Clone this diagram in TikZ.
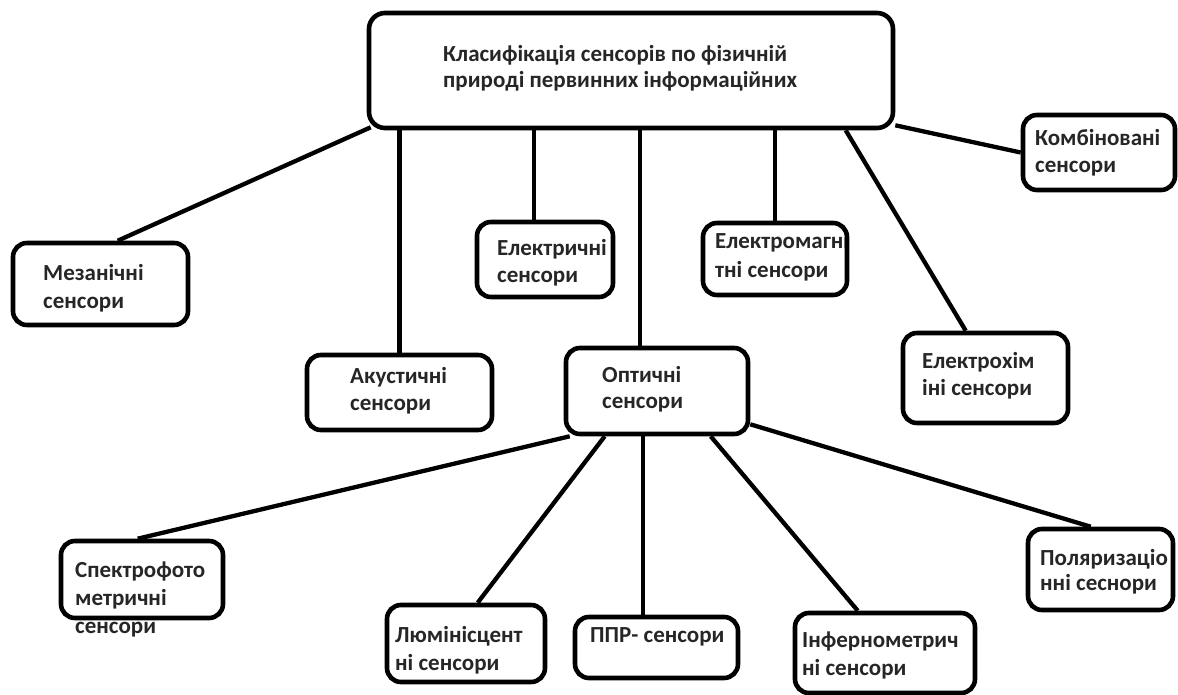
\documentclass[tikz,border=0pt]{standalone}
\usepackage{fontspec}
\newfontfamily\lbfont{Carlito}
\usetikzlibrary{calc}
\tikzset{
  box/.style={draw=black, line width=4.6pt, rounded corners=14pt, inner sep=0pt, rectangle},
  lbl/.style={anchor=base west, inner sep=0pt, text=black!85, font=\lbfont\bfseries\fontsize{23}{28}\selectfont},
  link/.style={draw=black, line width=4.3pt}
}
\begin{document}
\begin{tikzpicture}[x=1pt,y=-1pt]
\useasboundingbox (0,0) rectangle (1178,695);
% texts
\node[lbl] (topa) at (443,62) {Класифікація сенсорів по фізичній};
\node[lbl] (topb) at (443,88) {природі первинних інформаційних};
\node[lbl] (meza) at (43,280) {Мезанічні};
\node[lbl] (mezb) at (43,308) {сенсори};
\node[lbl] (akua) at (350,383) {Акустичні};
\node[lbl] (akub) at (350,410) {сенсори};
\node[lbl] (elea) at (497,255) {Електричні};
\node[lbl] (eleb) at (497,282) {сенсори};
\node[lbl] (opta) at (602,382) {Оптичні};
\node[lbl] (optb) at (602,408) {сенсори};
\node[lbl] (emga) at (715,248) {Електромагні};
\node[lbl] (emgb) at (715,277) {тні сенсори};
\node[lbl] (echa) at (922,368) {Електрохім};
\node[lbl] (echb) at (922,395) {іні сенсори};
\node[lbl] (koma) at (1035,146) {Комбіновані};
\node[lbl] (komb) at (1035,173) {сенсори};
\node[lbl] (spea) at (75,577) {Спектрофото};
\node[lbl] (speb) at (75,605) {метричні};
\node[lbl] (spec) at (75,633) {сенсори};
\node[lbl] (luma) at (395,642) {Люмінісцент};
\node[lbl] (lumb) at (395,670) {ні сенсори};
\node[lbl] (ppra) at (590,642) {ППР- сенсори};
\node[lbl] (infa) at (802,647) {Інфернометрич};
\node[lbl] (infb) at (802,675) {ні сенсори};
\node[lbl] (pola) at (1040,565) {Поляризаціо};
\node[lbl] (polb) at (1040,590) {нні сеснори};
% boxes
\node[box, rounded corners=16pt, minimum width=524pt, minimum height=115pt] (top) at (631,70.5) {};
\node[box, minimum width=175pt, minimum height=82pt] (mez) at (100.5,284) {};
\node[box, minimum width=185pt, minimum height=75pt] (aku) at (399.5,392.5) {};
\node[box, minimum width=136pt, minimum height=75pt] (ele) at (545,259.5) {};
\node[box, minimum width=182pt, minimum height=86pt] (opt) at (657,391) {};
\node[box, minimum width=144pt, minimum height=72pt] (emg) at (775,259) {};
\node[box, minimum width=165pt, minimum height=90pt] (ech) at (985.5,378) {};
\node[box, minimum width=152pt, minimum height=75pt] (kom) at (1099,152.5) {};
\node[box, minimum width=162pt, minimum height=77pt] (spe) at (142,579.5) {};
\node[box, minimum width=158pt, minimum height=77pt] (lum) at (466,643.5) {};
\node[box, minimum width=163pt, minimum height=61pt] (ppr) at (656.5,647.5) {};
\node[box, minimum width=180pt, minimum height=80pt] (inf) at (885,653) {};
\node[box, minimum width=145pt, minimum height=81pt] (pol) at (1100.5,569.5) {};
% connector ends
\coordinate (mezin) at ($(mez.north west)+(107,0)$);
\coordinate (elein) at ($(ele.north west)+(59,0)$);
\coordinate (optin) at ($(opt.north west)+(76,0)$);
\coordinate (echin) at ($(ech.north west)+(65,0)$);
\coordinate (spein) at ($(spe.north west)+(79,0)$);
\coordinate (lumin) at ($(lum.north west)+(93,0)$);
\coordinate (pprin) at ($(ppr.north west)+(70,0)$);
\coordinate (infin) at ($(inf.north west)+(65,0)$);
\coordinate (polin) at ($(pol.north west)+(65,0)$);
% connectors from top
\draw[link] ($(top.south west)+(4,-3)$) -- (mezin);
\draw[link] (top.south -| aku.north) -- (aku.north);
\draw[link] (top.south -| elein) -- (elein);
\draw[link] (top.south -| optin) -- (optin);
\draw[link] (top.south -| emg.north) -- (emg.north);
\draw[link] ($(top.south west)+(479,0)$) -- (echin);
\draw[link] ($(top.south east)+(0,-5)$) -- (kom.west);
% connectors from opt
\draw[link] ($(opt.south west)+(6,0)$) -- (spein);
\draw[link] ($(opt.south west)+(41,0)$) -- (lumin);
\draw[link] (opt.south -| pprin) -- (pprin);
\draw[link] ($(opt.south west)+(147,0)$) -- (infin);
\draw[link] ($(opt.south east)+(0,-12)$) -- (polin);
\end{tikzpicture}
\end{document}
